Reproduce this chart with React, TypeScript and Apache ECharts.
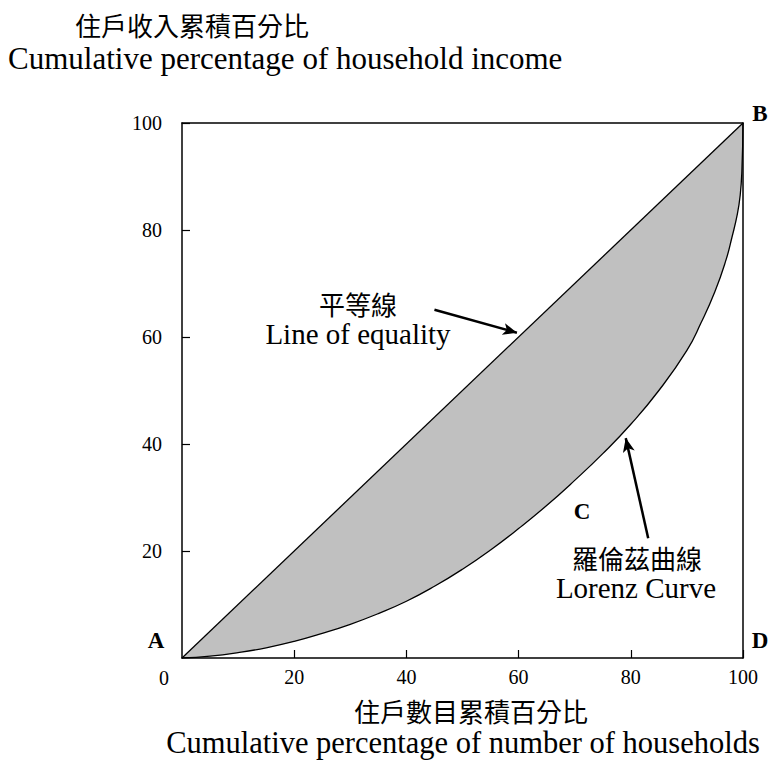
import React, { useEffect, useRef } from "react";
import * as echarts from "echarts";

const ticks = [0, 20, 40, 60, 80, 100];
const equalityX = [0, 100];
const equalityY = [0, 100];
const lorenzX = [0, 5, 10, 15, 20, 25, 30, 35, 40, 45, 50, 55, 60, 65, 70, 75, 80, 85, 90, 92.5, 95, 97, 98, 99, 99.5, 99.8, 100];
const lorenzY = [0, 0.35, 1.0, 1.9, 3.1, 4.6, 6.3, 8.3, 10.6, 13.4, 16.6, 20.2, 24.2, 28.5, 33.2, 38.2, 43.7, 50.0, 57.5, 62.6, 68.5, 74.5, 78.5, 83.0, 86.5, 91.0, 100];

const SERIF = "'Liberation Serif', 'Times New Roman', serif";
const CJK = "'Noto Sans CJK TC', 'Noto Sans CJK SC', sans-serif";

// annotation arrows in data space
const equalityArrow = [[45.0, 65.1], [59.7, 60.8]];
const lorenzArrow = [[83.1, 22.4], [79.1, 41.1]];

export default function App() {
  const ref = useRef<HTMLDivElement>(null);
  useEffect(() => {
    if (!ref.current) return;
    const chart = echarts.init(ref.current, null, { renderer: "svg" });
    const txt = (x: number, y: number, text: string, font: string, size: number, align = "center", weight = "normal", lh?: number) => ({
      type: "text",
      x,
      y,
      z: 100,
      style: {
        text,
        fontFamily: font,
        fontSize: size,
        fontWeight: weight,
        lineHeight: lh ?? size,
        fill: "#000",
        textAlign: align,
        textVerticalAlign: "middle",
      },
    });
    const tickStyle = { show: true, inside: true, length: 8, lineStyle: { color: "#000", width: 1.2 } };
    const axisCommon = {
      type: "value",
      min: 0,
      max: 100,
      interval: 20,
      z: 10,
      splitLine: { show: false },
      axisLine: { show: true, onZero: false, lineStyle: { color: "#000", width: 1.5 } },
    };
    chart.setOption({
      animation: false,
      backgroundColor: "#fff",
      grid: { left: 182, right: 28, top: 123, bottom: 102, show: false },
      xAxis: [
        {
          ...axisCommon,
          position: "bottom",
          axisTick: tickStyle,
          axisLabel: {
            showMinLabel: false,
            color: "#000",
            fontFamily: SERIF,
            fontSize: 20,
            margin: 9,
            formatter: (v: number) => (ticks.includes(v) ? String(v) : ""),
          },
        },
        {
          ...axisCommon,
          position: "top",
          axisTick: { show: false },
          axisLabel: { show: false },
        },
      ],
      yAxis: [
        {
          ...axisCommon,
          position: "left",
          axisTick: tickStyle,
          axisLabel: {
            showMinLabel: false,
            color: "#000",
            fontFamily: SERIF,
            fontSize: 20,
            margin: 20,
          },
        },
        {
          ...axisCommon,
          position: "right",
          axisTick: { show: false },
          axisLabel: { show: false },
        },
      ],
      series: [
        {
          type: "line",
          data: equalityX.map((x, i) => [x, equalityY[i]]),
          symbol: "none",
          lineStyle: { color: "#000", width: 1.3 },
          areaStyle: { color: "#c0c0c0", opacity: 1, origin: "start" },
          z: 2,
        },
        {
          type: "line",
          data: lorenzX.map((x, i) => [x, lorenzY[i]]),
          symbol: "none",
          smooth: 0.5,
          lineStyle: { color: "#000", width: 1.3 },
          areaStyle: { color: "#fff", opacity: 1, origin: "start" },
          z: 3,
          markLine: {
            silent: true,
            symbol: ["none", "arrow"],
            symbolSize: [9, 14],
            label: { show: false },
            lineStyle: { color: "#000", width: 2.5, type: "solid" },
            data: [
              [{ coord: equalityArrow[0] }, { coord: equalityArrow[1] }],
              [{ coord: lorenzArrow[0] }, { coord: lorenzArrow[1] }],
            ],
          },
        },
      ],
      graphic: [
        txt(75, 24, "住戶收入累積百分比", CJK, 26, "left"),
        txt(8, 58, "Cumulative percentage of household income", SERIF, 31, "left", "normal", 28),
        txt(358, 303, "平等線", CJK, 26),
        txt(358, 334, "Line of equality", SERIF, 29, "center", "normal", 26),
        txt(637, 557, "羅倫茲曲線", CJK, 26),
        txt(636, 588, "Lorenz Curve", SERIF, 29, "center", "normal", 26),
        txt(471, 710, "住戶數目累積百分比", CJK, 26, "center", "normal", 24),
        txt(463, 743, "Cumulative percentage of number of households", SERIF, 30.5, "center", "normal", 26),
        txt(156, 640, "A", SERIF, 23, "center", "bold"),
        txt(760, 113, "B", SERIF, 23, "center", "bold"),
        txt(582, 511, "C", SERIF, 23, "center", "bold"),
        txt(760, 640, "D", SERIF, 23, "center", "bold"),
        txt(164, 678, "0", SERIF, 20),
      ],
    });
    return () => chart.dispose();
  }, []);
  return <div ref={ref} style={{ position: "fixed", left: 0, top: 0, width: 771, height: 760 }} />;
}
